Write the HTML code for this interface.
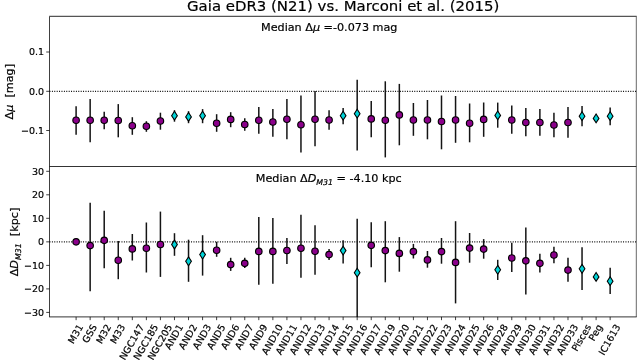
<!DOCTYPE html>
<html><head><meta charset="utf-8"><title>Gaia eDR3 (N21) vs. Marconi et al. (2015)</title>
<style>html,body{margin:0;padding:0;background:#fff;overflow:hidden}svg{display:block}text{font-family:"DejaVu Sans","Liberation Sans",sans-serif;fill:#000;stroke:#000;stroke-width:0.2px;white-space:pre}</style></head><body>
<svg width="637" height="360" viewBox="0 0 637 360">
<rect width="637" height="360" fill="#fff"/>
<g id="top">
<line x1="49.5" x2="636.3" y1="91.3" y2="91.3" stroke="#000" stroke-width="1.25" stroke-dasharray="0.95 1.45"/>
<line x1="76.10" x2="76.10" y1="106.2" y2="134.8" stroke="#141414" stroke-width="1.5"/>
<line x1="90.15" x2="90.15" y1="99.1" y2="142.3" stroke="#141414" stroke-width="1.5"/>
<line x1="104.21" x2="104.21" y1="111.7" y2="129.2" stroke="#141414" stroke-width="1.5"/>
<line x1="118.26" x2="118.26" y1="104.1" y2="137.3" stroke="#141414" stroke-width="1.5"/>
<line x1="132.32" x2="132.32" y1="117.2" y2="134.8" stroke="#141414" stroke-width="1.5"/>
<line x1="146.37" x2="146.37" y1="121.2" y2="131.8" stroke="#141414" stroke-width="1.5"/>
<line x1="160.42" x2="160.42" y1="112.7" y2="129.7" stroke="#141414" stroke-width="1.5"/>
<line x1="174.48" x2="174.48" y1="110.2" y2="121.7" stroke="#141414" stroke-width="1.5"/>
<line x1="188.53" x2="188.53" y1="111.2" y2="123.2" stroke="#141414" stroke-width="1.5"/>
<line x1="202.59" x2="202.59" y1="109.1" y2="123.2" stroke="#141414" stroke-width="1.5"/>
<line x1="216.64" x2="216.64" y1="114.2" y2="131.8" stroke="#141414" stroke-width="1.5"/>
<line x1="230.69" x2="230.69" y1="112.2" y2="127.2" stroke="#141414" stroke-width="1.5"/>
<line x1="244.75" x2="244.75" y1="118.2" y2="130.8" stroke="#141414" stroke-width="1.5"/>
<line x1="258.80" x2="258.80" y1="107.1" y2="133.8" stroke="#141414" stroke-width="1.5"/>
<line x1="272.86" x2="272.86" y1="109.1" y2="136.8" stroke="#141414" stroke-width="1.5"/>
<line x1="286.91" x2="286.91" y1="99.1" y2="139.3" stroke="#141414" stroke-width="1.5"/>
<line x1="300.96" x2="300.96" y1="95.6" y2="152.4" stroke="#141414" stroke-width="1.5"/>
<line x1="315.02" x2="315.02" y1="91.0" y2="146.3" stroke="#141414" stroke-width="1.5"/>
<line x1="329.07" x2="329.07" y1="110.2" y2="129.7" stroke="#141414" stroke-width="1.5"/>
<line x1="343.13" x2="343.13" y1="108.1" y2="124.2" stroke="#141414" stroke-width="1.5"/>
<line x1="357.18" x2="357.18" y1="79.8" y2="150.4" stroke="#141414" stroke-width="1.5"/>
<line x1="371.23" x2="371.23" y1="101.0" y2="137.3" stroke="#141414" stroke-width="1.5"/>
<line x1="385.29" x2="385.29" y1="81.3" y2="157.4" stroke="#141414" stroke-width="1.5"/>
<line x1="399.34" x2="399.34" y1="83.9" y2="145.3" stroke="#141414" stroke-width="1.5"/>
<line x1="413.40" x2="413.40" y1="103.0" y2="135.8" stroke="#141414" stroke-width="1.5"/>
<line x1="427.45" x2="427.45" y1="100.0" y2="139.3" stroke="#141414" stroke-width="1.5"/>
<line x1="441.50" x2="441.50" y1="95.5" y2="149.3" stroke="#141414" stroke-width="1.5"/>
<line x1="455.56" x2="455.56" y1="96.0" y2="142.8" stroke="#141414" stroke-width="1.5"/>
<line x1="469.61" x2="469.61" y1="103.5" y2="142.3" stroke="#141414" stroke-width="1.5"/>
<line x1="483.67" x2="483.67" y1="102.5" y2="136.8" stroke="#141414" stroke-width="1.5"/>
<line x1="497.72" x2="497.72" y1="102.6" y2="127.7" stroke="#141414" stroke-width="1.5"/>
<line x1="511.77" x2="511.77" y1="105.6" y2="133.8" stroke="#141414" stroke-width="1.5"/>
<line x1="525.83" x2="525.83" y1="108.1" y2="136.3" stroke="#141414" stroke-width="1.5"/>
<line x1="539.88" x2="539.88" y1="109.1" y2="135.8" stroke="#141414" stroke-width="1.5"/>
<line x1="553.94" x2="553.94" y1="112.7" y2="137.3" stroke="#141414" stroke-width="1.5"/>
<line x1="567.99" x2="567.99" y1="107.1" y2="137.8" stroke="#141414" stroke-width="1.5"/>
<line x1="582.04" x2="582.04" y1="106.1" y2="126.2" stroke="#141414" stroke-width="1.5"/>
<line x1="610.15" x2="610.15" y1="107.6" y2="125.2" stroke="#141414" stroke-width="1.5"/>
<circle cx="76.10" cy="120.2" r="3.25" fill="#8b008b" stroke="#000" stroke-width="1.15"/>
<circle cx="90.15" cy="120.2" r="3.25" fill="#8b008b" stroke="#000" stroke-width="1.15"/>
<circle cx="104.21" cy="120.2" r="3.25" fill="#8b008b" stroke="#000" stroke-width="1.15"/>
<circle cx="118.26" cy="120.5" r="3.25" fill="#8b008b" stroke="#000" stroke-width="1.15"/>
<circle cx="132.32" cy="125.7" r="3.25" fill="#8b008b" stroke="#000" stroke-width="1.15"/>
<circle cx="146.37" cy="126.2" r="3.25" fill="#8b008b" stroke="#000" stroke-width="1.15"/>
<circle cx="160.42" cy="121.0" r="3.25" fill="#8b008b" stroke="#000" stroke-width="1.15"/>
<path d="M174.48 111.30L177.33 115.7L174.48 120.10L171.63 115.7Z" fill="#00d4d8" stroke="#000" stroke-width="1.1" stroke-linejoin="miter"/>
<path d="M188.53 112.50L191.38 116.9L188.53 121.30L185.68 116.9Z" fill="#00d4d8" stroke="#000" stroke-width="1.1" stroke-linejoin="miter"/>
<path d="M202.59 111.30L205.44 115.7L202.59 120.10L199.74 115.7Z" fill="#00d4d8" stroke="#000" stroke-width="1.1" stroke-linejoin="miter"/>
<circle cx="216.64" cy="123.2" r="3.25" fill="#8b008b" stroke="#000" stroke-width="1.15"/>
<circle cx="230.69" cy="119.4" r="3.25" fill="#8b008b" stroke="#000" stroke-width="1.15"/>
<circle cx="244.75" cy="124.5" r="3.25" fill="#8b008b" stroke="#000" stroke-width="1.15"/>
<circle cx="258.80" cy="120.2" r="3.25" fill="#8b008b" stroke="#000" stroke-width="1.15"/>
<circle cx="272.86" cy="122.0" r="3.25" fill="#8b008b" stroke="#000" stroke-width="1.15"/>
<circle cx="286.91" cy="119.2" r="3.25" fill="#8b008b" stroke="#000" stroke-width="1.15"/>
<circle cx="300.96" cy="124.7" r="3.25" fill="#8b008b" stroke="#000" stroke-width="1.15"/>
<circle cx="315.02" cy="119.2" r="3.25" fill="#8b008b" stroke="#000" stroke-width="1.15"/>
<circle cx="329.07" cy="120.0" r="3.25" fill="#8b008b" stroke="#000" stroke-width="1.15"/>
<path d="M343.13 111.30L345.98 115.7L343.13 120.10L340.28 115.7Z" fill="#00d4d8" stroke="#000" stroke-width="1.1" stroke-linejoin="miter"/>
<path d="M357.18 109.30L360.03 113.7L357.18 118.10L354.33 113.7Z" fill="#00d4d8" stroke="#000" stroke-width="1.1" stroke-linejoin="miter"/>
<circle cx="371.23" cy="118.9" r="3.25" fill="#8b008b" stroke="#000" stroke-width="1.15"/>
<circle cx="385.29" cy="120.2" r="3.25" fill="#8b008b" stroke="#000" stroke-width="1.15"/>
<circle cx="399.34" cy="114.9" r="3.25" fill="#8b008b" stroke="#000" stroke-width="1.15"/>
<circle cx="413.40" cy="120.0" r="3.25" fill="#8b008b" stroke="#000" stroke-width="1.15"/>
<circle cx="427.45" cy="120.0" r="3.25" fill="#8b008b" stroke="#000" stroke-width="1.15"/>
<circle cx="441.50" cy="121.5" r="3.25" fill="#8b008b" stroke="#000" stroke-width="1.15"/>
<circle cx="455.56" cy="120.0" r="3.25" fill="#8b008b" stroke="#000" stroke-width="1.15"/>
<circle cx="469.61" cy="123.2" r="3.25" fill="#8b008b" stroke="#000" stroke-width="1.15"/>
<circle cx="483.67" cy="119.4" r="3.25" fill="#8b008b" stroke="#000" stroke-width="1.15"/>
<path d="M497.72 111.00L500.57 115.4L497.72 119.80L494.87 115.4Z" fill="#00d4d8" stroke="#000" stroke-width="1.1" stroke-linejoin="miter"/>
<circle cx="511.77" cy="120.0" r="3.25" fill="#8b008b" stroke="#000" stroke-width="1.15"/>
<circle cx="525.83" cy="122.5" r="3.25" fill="#8b008b" stroke="#000" stroke-width="1.15"/>
<circle cx="539.88" cy="122.5" r="3.25" fill="#8b008b" stroke="#000" stroke-width="1.15"/>
<circle cx="553.94" cy="125.0" r="3.25" fill="#8b008b" stroke="#000" stroke-width="1.15"/>
<circle cx="567.99" cy="122.5" r="3.25" fill="#8b008b" stroke="#000" stroke-width="1.15"/>
<path d="M582.04 111.80L584.89 116.2L582.04 120.60L579.19 116.2Z" fill="#00d4d8" stroke="#000" stroke-width="1.1" stroke-linejoin="miter"/>
<path d="M596.10 114.00L598.95 118.4L596.10 122.80L593.25 118.4Z" fill="#00d4d8" stroke="#000" stroke-width="1.1" stroke-linejoin="miter"/>
<path d="M610.15 111.80L613.00 116.2L610.15 120.60L607.30 116.2Z" fill="#00d4d8" stroke="#000" stroke-width="1.1" stroke-linejoin="miter"/>
</g>
<g id="bottom">
<line x1="49.5" x2="636.3" y1="241.85" y2="241.85" stroke="#000" stroke-width="1.25" stroke-dasharray="0.95 1.45"/>
<line x1="90.15" x2="90.15" y1="202.7" y2="291.3" stroke="#141414" stroke-width="1.5"/>
<line x1="104.21" x2="104.21" y1="210.8" y2="268.2" stroke="#141414" stroke-width="1.5"/>
<line x1="118.26" x2="118.26" y1="241.0" y2="279.2" stroke="#141414" stroke-width="1.5"/>
<line x1="132.32" x2="132.32" y1="234.0" y2="260.5" stroke="#141414" stroke-width="1.5"/>
<line x1="146.37" x2="146.37" y1="222.5" y2="272.5" stroke="#141414" stroke-width="1.5"/>
<line x1="160.42" x2="160.42" y1="211.6" y2="276.9" stroke="#141414" stroke-width="1.5"/>
<line x1="174.48" x2="174.48" y1="233.2" y2="255.8" stroke="#141414" stroke-width="1.5"/>
<line x1="188.53" x2="188.53" y1="239.7" y2="281.8" stroke="#141414" stroke-width="1.5"/>
<line x1="202.59" x2="202.59" y1="235.2" y2="275.6" stroke="#141414" stroke-width="1.5"/>
<line x1="216.64" x2="216.64" y1="241.8" y2="256.8" stroke="#141414" stroke-width="1.5"/>
<line x1="230.69" x2="230.69" y1="257.8" y2="270.9" stroke="#141414" stroke-width="1.5"/>
<line x1="244.75" x2="244.75" y1="257.8" y2="267.9" stroke="#141414" stroke-width="1.5"/>
<line x1="258.80" x2="258.80" y1="217.1" y2="284.8" stroke="#141414" stroke-width="1.5"/>
<line x1="272.86" x2="272.86" y1="218.1" y2="283.8" stroke="#141414" stroke-width="1.5"/>
<line x1="286.91" x2="286.91" y1="238.0" y2="264.0" stroke="#141414" stroke-width="1.5"/>
<line x1="300.96" x2="300.96" y1="214.7" y2="277.7" stroke="#141414" stroke-width="1.5"/>
<line x1="315.02" x2="315.02" y1="225.2" y2="274.7" stroke="#141414" stroke-width="1.5"/>
<line x1="329.07" x2="329.07" y1="249.0" y2="260.0" stroke="#141414" stroke-width="1.5"/>
<line x1="343.13" x2="343.13" y1="240.3" y2="263.5" stroke="#141414" stroke-width="1.5"/>
<line x1="357.18" x2="357.18" y1="218.7" y2="317.0" stroke="#141414" stroke-width="1.5"/>
<line x1="371.23" x2="371.23" y1="222.2" y2="267.2" stroke="#141414" stroke-width="1.5"/>
<line x1="385.29" x2="385.29" y1="221.2" y2="282.3" stroke="#141414" stroke-width="1.5"/>
<line x1="399.34" x2="399.34" y1="237.1" y2="271.7" stroke="#141414" stroke-width="1.5"/>
<line x1="413.40" x2="413.40" y1="243.9" y2="258.5" stroke="#141414" stroke-width="1.5"/>
<line x1="427.45" x2="427.45" y1="251.0" y2="267.7" stroke="#141414" stroke-width="1.5"/>
<line x1="441.50" x2="441.50" y1="238.0" y2="263.7" stroke="#141414" stroke-width="1.5"/>
<line x1="455.56" x2="455.56" y1="221.2" y2="303.4" stroke="#141414" stroke-width="1.5"/>
<line x1="469.61" x2="469.61" y1="233.0" y2="262.7" stroke="#141414" stroke-width="1.5"/>
<line x1="483.67" x2="483.67" y1="239.1" y2="258.7" stroke="#141414" stroke-width="1.5"/>
<line x1="497.72" x2="497.72" y1="259.8" y2="280.0" stroke="#141414" stroke-width="1.5"/>
<line x1="511.77" x2="511.77" y1="242.7" y2="271.9" stroke="#141414" stroke-width="1.5"/>
<line x1="525.83" x2="525.83" y1="227.6" y2="294.6" stroke="#141414" stroke-width="1.5"/>
<line x1="539.88" x2="539.88" y1="253.8" y2="272.4" stroke="#141414" stroke-width="1.5"/>
<line x1="553.94" x2="553.94" y1="246.7" y2="263.3" stroke="#141414" stroke-width="1.5"/>
<line x1="567.99" x2="567.99" y1="257.8" y2="281.8" stroke="#141414" stroke-width="1.5"/>
<line x1="582.04" x2="582.04" y1="247.2" y2="290.1" stroke="#141414" stroke-width="1.5"/>
<line x1="610.15" x2="610.15" y1="267.8" y2="294.1" stroke="#141414" stroke-width="1.5"/>
<circle cx="76.10" cy="241.8" r="3.25" fill="#8b008b" stroke="#000" stroke-width="1.15"/>
<circle cx="90.15" cy="245.6" r="3.25" fill="#8b008b" stroke="#000" stroke-width="1.15"/>
<circle cx="104.21" cy="240.3" r="3.25" fill="#8b008b" stroke="#000" stroke-width="1.15"/>
<circle cx="118.26" cy="260.2" r="3.25" fill="#8b008b" stroke="#000" stroke-width="1.15"/>
<circle cx="132.32" cy="248.9" r="3.25" fill="#8b008b" stroke="#000" stroke-width="1.15"/>
<circle cx="146.37" cy="248.2" r="3.25" fill="#8b008b" stroke="#000" stroke-width="1.15"/>
<circle cx="160.42" cy="244.5" r="3.25" fill="#8b008b" stroke="#000" stroke-width="1.15"/>
<path d="M174.48 240.10L177.33 244.5L174.48 248.90L171.63 244.5Z" fill="#00d4d8" stroke="#000" stroke-width="1.1" stroke-linejoin="miter"/>
<path d="M188.53 256.90L191.38 261.3L188.53 265.70L185.68 261.3Z" fill="#00d4d8" stroke="#000" stroke-width="1.1" stroke-linejoin="miter"/>
<path d="M202.59 250.20L205.44 254.6L202.59 259.00L199.74 254.6Z" fill="#00d4d8" stroke="#000" stroke-width="1.1" stroke-linejoin="miter"/>
<circle cx="216.64" cy="250.2" r="3.25" fill="#8b008b" stroke="#000" stroke-width="1.15"/>
<circle cx="230.69" cy="264.6" r="3.25" fill="#8b008b" stroke="#000" stroke-width="1.15"/>
<circle cx="244.75" cy="263.3" r="3.25" fill="#8b008b" stroke="#000" stroke-width="1.15"/>
<circle cx="258.80" cy="251.4" r="3.25" fill="#8b008b" stroke="#000" stroke-width="1.15"/>
<circle cx="272.86" cy="251.4" r="3.25" fill="#8b008b" stroke="#000" stroke-width="1.15"/>
<circle cx="286.91" cy="250.5" r="3.25" fill="#8b008b" stroke="#000" stroke-width="1.15"/>
<circle cx="300.96" cy="248.2" r="3.25" fill="#8b008b" stroke="#000" stroke-width="1.15"/>
<circle cx="315.02" cy="251.2" r="3.25" fill="#8b008b" stroke="#000" stroke-width="1.15"/>
<circle cx="329.07" cy="254.6" r="3.25" fill="#8b008b" stroke="#000" stroke-width="1.15"/>
<path d="M343.13 246.20L345.98 250.6L343.13 255.00L340.28 250.6Z" fill="#00d4d8" stroke="#000" stroke-width="1.1" stroke-linejoin="miter"/>
<path d="M357.18 268.30L360.03 272.7L357.18 277.10L354.33 272.7Z" fill="#00d4d8" stroke="#000" stroke-width="1.1" stroke-linejoin="miter"/>
<circle cx="371.23" cy="245.3" r="3.25" fill="#8b008b" stroke="#000" stroke-width="1.15"/>
<circle cx="385.29" cy="250.6" r="3.25" fill="#8b008b" stroke="#000" stroke-width="1.15"/>
<circle cx="399.34" cy="253.4" r="3.25" fill="#8b008b" stroke="#000" stroke-width="1.15"/>
<circle cx="413.40" cy="251.6" r="3.25" fill="#8b008b" stroke="#000" stroke-width="1.15"/>
<circle cx="427.45" cy="259.9" r="3.25" fill="#8b008b" stroke="#000" stroke-width="1.15"/>
<circle cx="441.50" cy="251.6" r="3.25" fill="#8b008b" stroke="#000" stroke-width="1.15"/>
<circle cx="455.56" cy="262.4" r="3.25" fill="#8b008b" stroke="#000" stroke-width="1.15"/>
<circle cx="469.61" cy="248.1" r="3.25" fill="#8b008b" stroke="#000" stroke-width="1.15"/>
<circle cx="483.67" cy="249.1" r="3.25" fill="#8b008b" stroke="#000" stroke-width="1.15"/>
<path d="M497.72 265.40L500.57 269.8L497.72 274.20L494.87 269.8Z" fill="#00d4d8" stroke="#000" stroke-width="1.1" stroke-linejoin="miter"/>
<circle cx="511.77" cy="258.0" r="3.25" fill="#8b008b" stroke="#000" stroke-width="1.15"/>
<circle cx="525.83" cy="260.8" r="3.25" fill="#8b008b" stroke="#000" stroke-width="1.15"/>
<circle cx="539.88" cy="263.3" r="3.25" fill="#8b008b" stroke="#000" stroke-width="1.15"/>
<circle cx="553.94" cy="255.0" r="3.25" fill="#8b008b" stroke="#000" stroke-width="1.15"/>
<circle cx="567.99" cy="270.1" r="3.25" fill="#8b008b" stroke="#000" stroke-width="1.15"/>
<path d="M582.04 264.40L584.89 268.8L582.04 273.20L579.19 268.8Z" fill="#00d4d8" stroke="#000" stroke-width="1.1" stroke-linejoin="miter"/>
<path d="M596.10 272.50L598.95 276.9L596.10 281.30L593.25 276.9Z" fill="#00d4d8" stroke="#000" stroke-width="1.1" stroke-linejoin="miter"/>
<path d="M610.15 276.80L613.00 281.2L610.15 285.60L607.30 281.2Z" fill="#00d4d8" stroke="#000" stroke-width="1.1" stroke-linejoin="miter"/>
</g>
<g stroke="#000" stroke-width="0.75" fill="none">
<line x1="49.5" x2="49.5" y1="16.3" y2="316.9"/>
<line x1="636.3" x2="636.3" y1="16.3" y2="316.9" stroke-width="0.6"/>
<line x1="49.13" x2="636.67" y1="16.3" y2="16.3" stroke-width="1.2" stroke="#555"/>
<line x1="49.5" x2="636.3" y1="166.5" y2="166.5" stroke-width="0.8"/>
<line x1="49.13" x2="636.67" y1="316.9" y2="316.9" stroke-width="0.8"/>
<line x1="46.23" x2="49.5" y1="52.0" y2="52.0"/>
<line x1="46.23" x2="49.5" y1="91.3" y2="91.3"/>
<line x1="46.23" x2="49.5" y1="130.5" y2="130.5"/>
<line x1="46.23" x2="49.5" y1="171.3" y2="171.3"/>
<line x1="46.23" x2="49.5" y1="194.8" y2="194.8"/>
<line x1="46.23" x2="49.5" y1="218.3" y2="218.3"/>
<line x1="46.23" x2="49.5" y1="241.85" y2="241.85"/>
<line x1="46.23" x2="49.5" y1="265.4" y2="265.4"/>
<line x1="46.23" x2="49.5" y1="288.9" y2="288.9"/>
<line x1="46.23" x2="49.5" y1="312.4" y2="312.4"/>
<line x1="76.10" x2="76.10" y1="316.9" y2="320.17"/>
<line x1="90.15" x2="90.15" y1="316.9" y2="320.17"/>
<line x1="104.21" x2="104.21" y1="316.9" y2="320.17"/>
<line x1="118.26" x2="118.26" y1="316.9" y2="320.17"/>
<line x1="132.32" x2="132.32" y1="316.9" y2="320.17"/>
<line x1="146.37" x2="146.37" y1="316.9" y2="320.17"/>
<line x1="160.42" x2="160.42" y1="316.9" y2="320.17"/>
<line x1="174.48" x2="174.48" y1="316.9" y2="320.17"/>
<line x1="188.53" x2="188.53" y1="316.9" y2="320.17"/>
<line x1="202.59" x2="202.59" y1="316.9" y2="320.17"/>
<line x1="216.64" x2="216.64" y1="316.9" y2="320.17"/>
<line x1="230.69" x2="230.69" y1="316.9" y2="320.17"/>
<line x1="244.75" x2="244.75" y1="316.9" y2="320.17"/>
<line x1="258.80" x2="258.80" y1="316.9" y2="320.17"/>
<line x1="272.86" x2="272.86" y1="316.9" y2="320.17"/>
<line x1="286.91" x2="286.91" y1="316.9" y2="320.17"/>
<line x1="300.96" x2="300.96" y1="316.9" y2="320.17"/>
<line x1="315.02" x2="315.02" y1="316.9" y2="320.17"/>
<line x1="329.07" x2="329.07" y1="316.9" y2="320.17"/>
<line x1="343.13" x2="343.13" y1="316.9" y2="320.17"/>
<line x1="357.18" x2="357.18" y1="316.9" y2="320.17"/>
<line x1="371.23" x2="371.23" y1="316.9" y2="320.17"/>
<line x1="385.29" x2="385.29" y1="316.9" y2="320.17"/>
<line x1="399.34" x2="399.34" y1="316.9" y2="320.17"/>
<line x1="413.40" x2="413.40" y1="316.9" y2="320.17"/>
<line x1="427.45" x2="427.45" y1="316.9" y2="320.17"/>
<line x1="441.50" x2="441.50" y1="316.9" y2="320.17"/>
<line x1="455.56" x2="455.56" y1="316.9" y2="320.17"/>
<line x1="469.61" x2="469.61" y1="316.9" y2="320.17"/>
<line x1="483.67" x2="483.67" y1="316.9" y2="320.17"/>
<line x1="497.72" x2="497.72" y1="316.9" y2="320.17"/>
<line x1="511.77" x2="511.77" y1="316.9" y2="320.17"/>
<line x1="525.83" x2="525.83" y1="316.9" y2="320.17"/>
<line x1="539.88" x2="539.88" y1="316.9" y2="320.17"/>
<line x1="553.94" x2="553.94" y1="316.9" y2="320.17"/>
<line x1="567.99" x2="567.99" y1="316.9" y2="320.17"/>
<line x1="582.04" x2="582.04" y1="316.9" y2="320.17"/>
<line x1="596.10" x2="596.10" y1="316.9" y2="320.17"/>
<line x1="610.15" x2="610.15" y1="316.9" y2="320.17"/>
</g>
<text x="44.0" y="55.40" font-size="9.5" text-anchor="end">0.1</text>
<text x="44.0" y="94.70" font-size="9.5" text-anchor="end">0.0</text>
<text x="44.0" y="133.90" font-size="9.5" text-anchor="end">−0.1</text>
<text x="44.0" y="174.70" font-size="9.5" text-anchor="end">30</text>
<text x="44.0" y="198.20" font-size="9.5" text-anchor="end">20</text>
<text x="44.0" y="221.70" font-size="9.5" text-anchor="end">10</text>
<text x="44.0" y="245.25" font-size="9.5" text-anchor="end">0</text>
<text x="44.0" y="268.80" font-size="9.5" text-anchor="end">−10</text>
<text x="44.0" y="292.30" font-size="9.5" text-anchor="end">−20</text>
<text x="44.0" y="315.80" font-size="9.5" text-anchor="end">−30</text>
<text transform="translate(76.10,334.29) rotate(-60)" y="2.61" font-size="9.5" text-anchor="middle">M31</text>
<text transform="translate(90.15,333.91) rotate(-60)" y="2.61" font-size="9.5" text-anchor="middle">GSS</text>
<text transform="translate(104.21,334.29) rotate(-60)" y="2.61" font-size="9.5" text-anchor="middle">M32</text>
<text transform="translate(118.26,334.29) rotate(-60)" y="2.61" font-size="9.5" text-anchor="middle">M33</text>
<text transform="translate(132.32,342.49) rotate(-60)" y="2.61" font-size="9.5" text-anchor="middle">NGC147</text>
<text transform="translate(146.37,342.49) rotate(-60)" y="2.61" font-size="9.5" text-anchor="middle">NGC185</text>
<text transform="translate(160.42,342.49) rotate(-60)" y="2.61" font-size="9.5" text-anchor="middle">NGC205</text>
<text transform="translate(174.48,337.18) rotate(-60)" y="2.61" font-size="9.5" text-anchor="middle">AND1</text>
<text transform="translate(188.53,337.18) rotate(-60)" y="2.61" font-size="9.5" text-anchor="middle">AND2</text>
<text transform="translate(202.59,337.18) rotate(-60)" y="2.61" font-size="9.5" text-anchor="middle">AND3</text>
<text transform="translate(216.64,337.18) rotate(-60)" y="2.61" font-size="9.5" text-anchor="middle">AND5</text>
<text transform="translate(230.69,337.18) rotate(-60)" y="2.61" font-size="9.5" text-anchor="middle">AND6</text>
<text transform="translate(244.75,337.18) rotate(-60)" y="2.61" font-size="9.5" text-anchor="middle">AND7</text>
<text transform="translate(258.80,337.18) rotate(-60)" y="2.61" font-size="9.5" text-anchor="middle">AND9</text>
<text transform="translate(272.86,339.80) rotate(-60)" y="2.61" font-size="9.5" text-anchor="middle">AND10</text>
<text transform="translate(286.91,339.80) rotate(-60)" y="2.61" font-size="9.5" text-anchor="middle">AND11</text>
<text transform="translate(300.96,339.80) rotate(-60)" y="2.61" font-size="9.5" text-anchor="middle">AND12</text>
<text transform="translate(315.02,339.80) rotate(-60)" y="2.61" font-size="9.5" text-anchor="middle">AND13</text>
<text transform="translate(329.07,339.80) rotate(-60)" y="2.61" font-size="9.5" text-anchor="middle">AND14</text>
<text transform="translate(343.13,339.80) rotate(-60)" y="2.61" font-size="9.5" text-anchor="middle">AND15</text>
<text transform="translate(357.18,339.80) rotate(-60)" y="2.61" font-size="9.5" text-anchor="middle">AND16</text>
<text transform="translate(371.23,339.80) rotate(-60)" y="2.61" font-size="9.5" text-anchor="middle">AND17</text>
<text transform="translate(385.29,339.80) rotate(-60)" y="2.61" font-size="9.5" text-anchor="middle">AND19</text>
<text transform="translate(399.34,339.80) rotate(-60)" y="2.61" font-size="9.5" text-anchor="middle">AND20</text>
<text transform="translate(413.40,339.80) rotate(-60)" y="2.61" font-size="9.5" text-anchor="middle">AND21</text>
<text transform="translate(427.45,339.80) rotate(-60)" y="2.61" font-size="9.5" text-anchor="middle">AND22</text>
<text transform="translate(441.50,339.80) rotate(-60)" y="2.61" font-size="9.5" text-anchor="middle">AND23</text>
<text transform="translate(455.56,339.80) rotate(-60)" y="2.61" font-size="9.5" text-anchor="middle">AND24</text>
<text transform="translate(469.61,339.80) rotate(-60)" y="2.61" font-size="9.5" text-anchor="middle">AND25</text>
<text transform="translate(483.67,339.80) rotate(-60)" y="2.61" font-size="9.5" text-anchor="middle">AND26</text>
<text transform="translate(497.72,339.80) rotate(-60)" y="2.61" font-size="9.5" text-anchor="middle">AND28</text>
<text transform="translate(511.77,339.80) rotate(-60)" y="2.61" font-size="9.5" text-anchor="middle">AND29</text>
<text transform="translate(525.83,339.80) rotate(-60)" y="2.61" font-size="9.5" text-anchor="middle">AND30</text>
<text transform="translate(539.88,339.80) rotate(-60)" y="2.61" font-size="9.5" text-anchor="middle">AND31</text>
<text transform="translate(553.94,339.80) rotate(-60)" y="2.61" font-size="9.5" text-anchor="middle">AND32</text>
<text transform="translate(567.99,339.80) rotate(-60)" y="2.61" font-size="9.5" text-anchor="middle">AND33</text>
<text transform="translate(582.04,338.12) rotate(-60)" y="2.61" font-size="9.5" text-anchor="middle">Pisces</text>
<text transform="translate(596.10,332.98) rotate(-60)" y="2.61" font-size="9.5" text-anchor="middle">Peg</text>
<text transform="translate(610.15,340.06) rotate(-60)" y="2.61" font-size="9.5" text-anchor="middle">IC1613</text>
<text x="343.2" y="11.3" font-size="14.93" text-anchor="middle">Gaia eDR3 (N21) vs. Marconi et al. (2015)</text>
<text x="261" y="31.4" font-size="11.2">Median Δ<tspan font-style="italic">μ</tspan> =-0.073 mag</text>
<text x="255.8" y="182.3" font-size="11.2">Median Δ<tspan font-style="italic">D</tspan><tspan font-style="italic" font-size="7.84" dy="2.2">M31</tspan><tspan dy="-2.2"> = -4.10 kpc</tspan></text>
<text transform="translate(13.3,91.7) rotate(-90)" font-size="11.2" text-anchor="middle">Δ<tspan font-style="italic">μ</tspan>  [mag]</text>
<text transform="translate(18.3,242.0) rotate(-90)" font-size="11.2" text-anchor="middle">Δ<tspan font-style="italic">D</tspan><tspan font-style="italic" font-size="7.84" dy="2.2">M31</tspan><tspan dy="-2.2">  [kpc]</tspan></text>
</svg></body></html>
